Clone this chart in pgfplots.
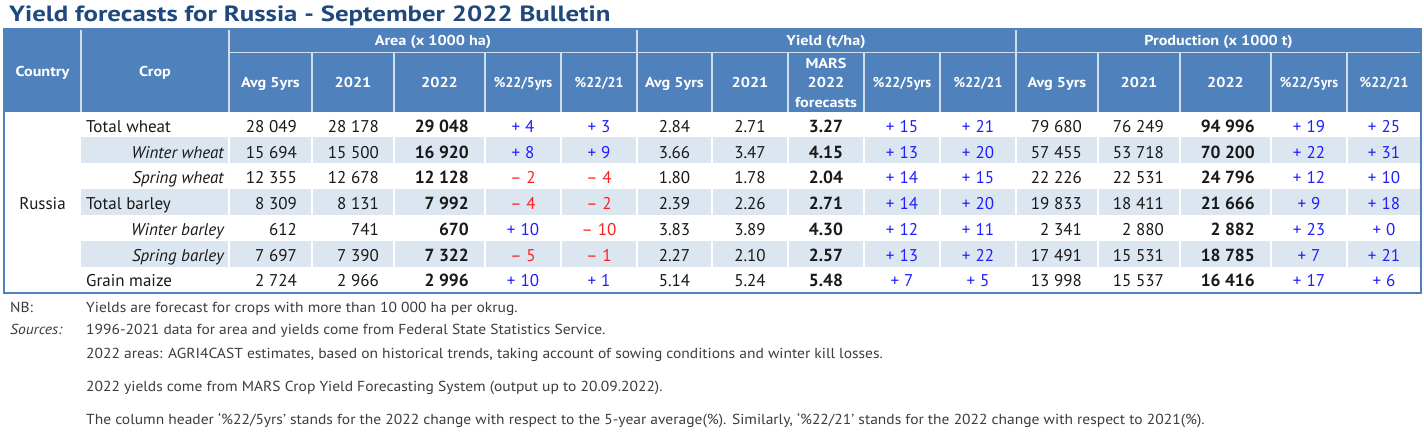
\documentclass[border=0pt]{standalone}
\usepackage{fontspec}
\setmainfont{PT Sans}
\usepackage{graphicx}
\usepackage{pgfplots}
\usepackage{pgfplotstable}
\pgfplotsset{compat=1.18}

\definecolor{hdr}{RGB}{79,129,189}
\definecolor{stripe}{RGB}{220,230,241}
\definecolor{ttl}{RGB}{31,73,125}
\definecolor{sep}{RGB}{210,222,238}
\definecolor{pos}{RGB}{30,30,255}
\definecolor{neg}{RGB}{255,30,30}
\definecolor{txt}{RGB}{25,25,25}
\definecolor{note}{RGB}{60,60,60}

\newcommand{\up}[1]{\textcolor{pos}{+\hspace{5pt}#1}}
\newcommand{\dn}[1]{\textcolor{neg}{–\hspace{5pt}#1}}
\newcommand{\hx}[1]{\scalebox{1.13}[1]{#1}}
\newcommand{\px}[1]{\scalebox{0.97}[1]{#1}}
\newcommand{\nx}[1]{\scalebox{1.07}[1]{#1}}

\tikzset{
  hdrtxt/.style={font=\fontsize{14.3}{16}\selectfont\bfseries, text=white, inner sep=0pt, anchor=base},
  notetxt/.style={font=\fontsize{14.5}{17}\selectfont, text=note, inner sep=0pt, anchor=base west},
}

\pgfplotstableread[col sep=semicolon]{
row;aavg;a21;a22;ap5;ap21;yavg;y21;y22;yp5;yp21;pavg;p21;p22;pp5;pp21
1;28 049;28 178;29 048;\up{4};\up{3};2.84;2.71;3.27;\up{15};\up{21};79 680;76 249;94 996;\up{19};\up{25}
2;15 694;15 500;16 920;\up{8};\up{9};3.66;3.47;4.15;\up{13};\up{20};57 455;53 718;70 200;\up{22};\up{31}
3;12 355;12 678;12 128;\dn{2};\dn{4};1.80;1.78;2.04;\up{14};\up{15};22 226;22 531;24 796;\up{12};\up{10}
4;8 309;8 131;7 992;\dn{4};\dn{2};2.39;2.26;2.71;\up{14};\up{20};19 833;18 411;21 666;\up{9};\up{18}
5;612;741;670;\up{10};\dn{10};3.83;3.89;4.30;\up{12};\up{11};2 341;2 880;2 882;\up{23};\up{0}
6;7 697;7 390;7 322;\dn{5};\dn{1};2.27;2.10;2.57;\up{13};\up{22};17 491;15 531;18 785;\up{7};\up{21}
7;2 724;2 966;2 996;\up{10};\up{1};5.14;5.24;5.48;\up{7};\up{5};13 998;15 537;16 416;\up{17};\up{6}
}\data

\pgfplotstableread[col sep=semicolon]{
row;name
1;Total wheat
4;Total barley
7;Grain maize
}\maincrops

\pgfplotstableread[col sep=semicolon]{
row;name
2;Winter wheat
3;Spring wheat
5;Winter barley
6;Spring barley
}\subcrops

\pgfplotsset{
  cell/.style={draw=none, mark=none, nodes near coords, point meta=explicit symbolic,
    nodes near coords style={font=\fontsize{17}{20}\selectfont, text=txt, inner sep=0pt, anchor=#1}},
  cellR/.style={cell=base east},
  cellC/.style={cell=base},
  bold/.style={nodes near coords style={font=\fontsize{17.5}{20}\selectfont\bfseries}},
}
\newcommand{\rowy}{132.5+25.7*(\thisrow{row}-1)}

\begin{document}
\begin{tikzpicture}
\begin{axis}[
  scale only axis, width=1424pt, height=439pt,
  xmin=0, xmax=1424, ymin=0, ymax=439, y dir=reverse,
  axis lines=none, clip=false,
]
\path (axis cs:0,0) rectangle (axis cs:1424,439);
% header
\fill[hdr] (axis cs:4,29) rectangle (axis cs:1421,111.5);
% stripes
\fill[stripe] (axis cs:81,137.35) rectangle (axis cs:1421,163.2);
\fill[stripe] (axis cs:81,189.05) rectangle (axis cs:1421,214.9);
\fill[stripe] (axis cs:81,240.75) rectangle (axis cs:1421,266.6);
\pgfplotsinvokeforeach{229,312,394,485,561,637,712,788,864,940,1016,1098,1180,1271,1347}{
  \draw[white, line width=2pt] (axis cs:#1,111.5) -- (axis cs:#1,292.7);
}
% header separators
\pgfplotsinvokeforeach{81,229,637,1016}{
  \draw[sep, line width=1.5pt] (axis cs:#1,29) -- (axis cs:#1,111.5);
}
\pgfplotsinvokeforeach{312,394,485,561,712,788,864,940,1098,1180,1271,1347}{
  \draw[sep, line width=1.5pt] (axis cs:#1,52.7) -- (axis cs:#1,111.5);
}
\draw[sep, line width=1.5pt] (axis cs:229,52.7) -- (axis cs:1421,52.7);
% border
\draw[hdr, line width=2pt] (axis cs:4,29) rectangle (axis cs:1421,292.7);

% title
\node[font=\fontsize{22}{25}\selectfont\bfseries, text=ttl, inner sep=0pt, anchor=base west] at (axis cs:9,21) {\scalebox{1.22}[1]{Yield forecasts for Russia - September 2022 Bulletin}};

% header texts
\node[hdrtxt] at (axis cs:42.5,76) {\hx{Country}};
\node[hdrtxt] at (axis cs:155,76) {\hx{Crop}};
\node[hdrtxt] at (axis cs:433,45) {\hx{Area (x 1000 ha)}};
\node[hdrtxt] at (axis cs:826,45) {\hx{Yield (t/ha)}};
\node[hdrtxt] at (axis cs:1218.5,45) {\hx{Production (x 1000 t)}};
\node[hdrtxt] at (axis cs:270.5,87) {\hx{Avg 5yrs}};
\node[hdrtxt] at (axis cs:353,87) {\hx{2021}};
\node[hdrtxt] at (axis cs:439.5,87) {\hx{2022}};
\node[hdrtxt] at (axis cs:523,87) {\px{\%22/5yrs}};
\node[hdrtxt] at (axis cs:599,87) {\px{\%22/21}};
\node[hdrtxt] at (axis cs:674.5,87) {\hx{Avg 5yrs}};
\node[hdrtxt] at (axis cs:750,87) {\hx{2021}};
\node[hdrtxt] at (axis cs:902,87) {\px{\%22/5yrs}};
\node[hdrtxt] at (axis cs:978,87) {\px{\%22/21}};
\node[hdrtxt] at (axis cs:1057,87) {\hx{Avg 5yrs}};
\node[hdrtxt] at (axis cs:1139,87) {\hx{2021}};
\node[hdrtxt] at (axis cs:1225.5,87) {\hx{2022}};
\node[hdrtxt] at (axis cs:1309,87) {\px{\%22/5yrs}};
\node[hdrtxt] at (axis cs:1384,87) {\px{\%22/21}};
\node[hdrtxt] at (axis cs:826,68) {\hx{MARS}};
\node[hdrtxt] at (axis cs:826,87) {\hx{2022}};
\node[hdrtxt] at (axis cs:826,107) {\hx{forecasts}};

% country and crops
\addplot[cell=base] coordinates {(42.5,209.6) [Russia]};
\addplot[cell=base west] table[x expr=86, y expr=\rowy, meta=name] {\maincrops};
\addplot[cell=base east, nodes near coords style={font=\fontsize{17}{20}\selectfont\itshape}] table[x expr=224, y expr=\rowy, meta=name] {\subcrops};

% area
\addplot[cellR] table[x expr=297, y expr=\rowy, meta=aavg] {\data};
\addplot[cellR] table[x expr=379, y expr=\rowy, meta=a21] {\data};
\addplot[cellR, bold] table[x expr=469, y expr=\rowy, meta=a22] {\data};
\addplot[cellC] table[x expr=523, y expr=\rowy, meta=ap5] {\data};
\addplot[cellC] table[x expr=599, y expr=\rowy, meta=ap21] {\data};
% yield
\addplot[cellC] table[x expr=674.5, y expr=\rowy, meta=yavg] {\data};
\addplot[cellC] table[x expr=750, y expr=\rowy, meta=y21] {\data};
\addplot[cellC, bold] table[x expr=826, y expr=\rowy, meta=y22] {\data};
\addplot[cellC] table[x expr=902, y expr=\rowy, meta=yp5] {\data};
\addplot[cellC] table[x expr=978, y expr=\rowy, meta=yp21] {\data};
% production
\addplot[cellR] table[x expr=1082, y expr=\rowy, meta=pavg] {\data};
\addplot[cellR] table[x expr=1164, y expr=\rowy, meta=p21] {\data};
\addplot[cellR, bold] table[x expr=1255, y expr=\rowy, meta=p22] {\data};
\addplot[cellC] table[x expr=1309, y expr=\rowy, meta=pp5] {\data};
\addplot[cellC] table[x expr=1384, y expr=\rowy, meta=pp21] {\data};

% notes
\node[notetxt] at (axis cs:10,312) {\nx{NB:}};
\node[notetxt, font=\fontsize{14.5}{17}\selectfont\itshape] at (axis cs:10,334.5) {\nx{Sources:}};
\node[notetxt] at (axis cs:86,312) {\nx{Yields are forecast for crops with more than 10 000 ha per okrug.}};
\node[notetxt] at (axis cs:86,334.5) {\nx{1996-2021 data for area and yields come from Federal State Statistics Service.}};
\node[notetxt] at (axis cs:86,358) {\nx{2022 areas: AGRI4CAST estimates, based on historical trends, taking account of sowing conditions and winter kill losses.}};
\node[notetxt] at (axis cs:86,391) {\nx{2022 yields come from MARS Crop Yield Forecasting System (output up to 20.09.2022).}};
\node[notetxt] at (axis cs:86,424) {\nx{The column header ‘\%22/5yrs’ stands for the 2022 change with respect to the 5-year average(\%). Similarly, ‘\%22/21’ stands for the 2022 change with respect to 2021(\%).}};
\end{axis}
\end{tikzpicture}
\end{document}
